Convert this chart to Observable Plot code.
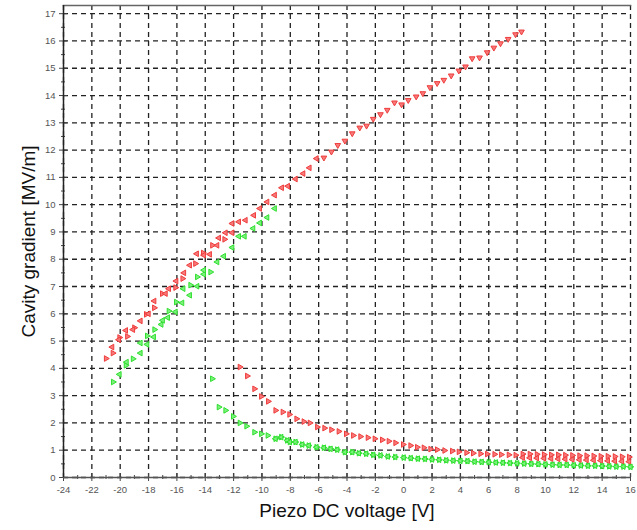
<!DOCTYPE html>
<html>
<head>
<meta charset="utf-8">
<script src="https://cdn.jsdelivr.net/npm/d3@7"></script>
<script src="https://cdn.jsdelivr.net/npm/@observablehq/plot@0.6"></script>
<style>
  html, body { margin: 0; padding: 0; background: #fff; }
  #chart { width: 637px; height: 530px; }
</style>
</head>
<body>
<div id="chart"></div>
<script>
// ---- Data (Piezo DC voltage [V], Cavity gradient [MV/m]) ----
const xTicks = [-24,-22,-20,-18,-16,-14,-12,-10,-8,-6,-4,-2,0,2,4,6,8,10,12,14,16];
const yTicks = [0,1,2,3,4,5,6,7,8,9,10,11,12,13,14,15,16,17];
const xLabel = "Piezo DC voltage [V]";
const yLabel = "Cavity gradient [MV/m]";

// red, upper branch
const redUpperRight = [[-21.0,4.36],[-20.52,4.56],[-20.05,5.13],[-19.5,5.17],[-19.0,5.49],[-18.17,5.98],[-17.6,6.22],[-17.04,6.74],[-16.1,6.96],[-15.6,7.29],[-14.7,7.84],[-14.15,8.23],[-13.5,8.51],[-12.64,8.73]];
const redUpperLeft = [[-20.57,4.78],[-20.1,5.05],[-19.6,5.39],[-19.1,5.42],[-18.57,5.74],[-18.0,6.0],[-17.6,6.47],[-16.8,6.74],[-16.57,6.92],[-16.05,7.2],[-15.5,7.5],[-15.09,7.78],[-14.6,8.2],[-14.1,8.15],[-13.68,8.18],[-13.16,8.51],[-13.04,8.78],[-12.57,8.97],[-12.1,8.97],[-12.1,9.31],[-11.63,9.37],[-11.16,9.43],[-10.57,9.61],[-10.15,9.86],[-9.63,10.1],[-9.1,10.35],[-8.6,10.62],[-8.17,10.68],[-7.63,10.94],[-7.09,11.14],[-6.65,11.35],[-6.15,11.69]];
const redUpperDown = [[-5.63,11.72],[-5.1,11.94],[-4.65,12.18],[-4.15,12.34],[-3.63,12.61],[-3.1,12.82],[-2.62,12.89],[-2.15,13.14],[-1.64,13.31],[-1.16,13.47],[-0.65,13.74],[-0.15,13.67],[0.32,13.83],[0.88,13.96],[1.35,14.08],[1.85,14.3],[2.36,14.45],[2.83,14.57],[3.35,14.73],[3.89,14.91],[4.36,15.06],[4.83,15.36],[5.35,15.39],[5.89,15.58],[6.36,15.75],[6.83,15.91],[7.37,16.07],[7.89,16.24],[8.31,16.34]];

// green, upper branch
const greenUpperRight = [[-20.5,3.5],[-19.6,4.11],[-19.1,4.35],[-18.1,5.19],[-17.58,5.42],[-16.57,6.1],[-16.05,6.43],[-15.04,7.05],[-14.57,7.35],[-13.63,7.53]];
const greenUpperLeft = [[-20.05,3.78],[-19.55,4.23],[-18.57,4.56],[-18.57,4.93],[-18.1,4.88],[-17.63,5.15],[-17.1,5.61],[-17.0,5.76],[-16.64,5.86],[-16.1,6.07],[-15.63,6.4],[-15.55,6.92],[-15.09,6.68],[-14.57,7.01],[-14.1,7.45],[-14.1,7.6],[-13.16,7.9],[-12.69,8.11],[-12.1,8.43],[-11.63,8.84],[-11.23,8.84],[-10.62,9.13],[-10.15,9.33],[-9.63,9.53],[-9.1,9.86]];

// red, lower branch
const redLower = [[-11.56,4.05],[-11.04,3.72],[-10.53,3.25],[-10.05,2.97],[-9.56,2.79],[-9.04,2.46],[-8.53,2.4],[-8.06,2.31],[-7.56,2.15],[-7.05,2.05],[-6.62,2.0],[-6.1,1.85],[-5.59,1.81],[-5.1,1.75],[-4.58,1.69],[-4.06,1.6],[-3.56,1.54],[-3.05,1.5],[-2.53,1.46],[-2.04,1.42],[-1.52,1.38],[-1.05,1.33],[-0.58,1.27],[-0.04,1.21],[0.48,1.17],[0.95,1.11],[1.42,1.09],[1.89,1.04],[2.36,1.02],[2.88,0.99],[3.42,0.97],[3.89,0.94],[4.43,0.91],[4.9,0.89],[5.42,0.87],[5.89,0.86],[6.41,0.85],[6.88,0.84],[7.42,0.83],[7.9,0.82]];
const redTailTop = [[8.4,0.86],[8.9,0.86],[9.4,0.85],[9.9,0.84],[10.4,0.83],[10.9,0.83],[11.4,0.82],[11.9,0.81],[12.4,0.8],[12.9,0.8],[13.4,0.79],[13.9,0.78],[14.4,0.78],[14.9,0.77],[15.4,0.76],[15.9,0.75]];
const redTailBottom = [[8.4,0.73],[8.9,0.72],[9.4,0.71],[9.9,0.7],[10.4,0.69],[10.9,0.68],[11.4,0.67],[11.9,0.66],[12.4,0.65],[12.9,0.64],[13.4,0.63],[13.9,0.62],[14.4,0.61],[14.9,0.6],[15.4,0.59],[15.9,0.58]];

// green, lower branch
const greenLower = [[-13.51,3.62],[-13.04,2.58],[-12.57,2.46],[-12.03,2.24],[-11.56,2.0],[-11.09,1.88],[-10.53,1.66],[-10.05,1.6],[-9.59,1.54],[-9.04,1.42],[-8.64,1.48],[-8.22,1.36],[-8.03,1.3],[-7.63,1.3],[-7.16,1.21],[-6.7,1.17],[-6.15,1.11],[-5.63,1.09],[-5.16,1.05],[-4.69,1.02],[-4.15,0.93],[-3.63,0.93],[-3.16,0.89],[-2.65,0.87],[-2.15,0.83],[-1.64,0.81],[-1.12,0.77],[-0.6,0.75],[0,0.73],[0.5,0.71],[1,0.69],[1.5,0.68],[2,0.66],[2.5,0.65],[3,0.63],[3.5,0.62],[4,0.61],[4.5,0.6],[5,0.58],[5.5,0.57],[6,0.56],[6.5,0.55],[7,0.54],[7.5,0.53],[8,0.52],[8.5,0.51],[9,0.5],[9.5,0.49],[10,0.48],[10.5,0.47],[11,0.46],[11.5,0.46],[12,0.45],[12.5,0.44],[13,0.43],[13.5,0.43],[14,0.42],[14.5,0.41],[15,0.4],[15.5,0.4],[16,0.39]];

// ---- Styles ----
const RED = "#f03c3c", RED_FILL = "#f77a7a";
const GREEN = "#2ee02e", GREEN_FILL = "#7ef07e";
const xMinor = d3.range(-23, 16, 2);
const yMinor = d3.range(0.5, 17, 1);

const W = 637, H = 530;
const mL = 63, mR = 7, mT = 5, mB = 53;
const plotW = W - mL - mR, plotH = H - mT - mB;

const tri = (data, color, fill, rot) => Plot.dot(data, {
  x: d => d[0], y: d => d[1], symbol: "triangle", rotate: rot, r: 2.1,
  fill: fill, stroke: color, strokeWidth: 1
});

const chart = Plot.plot({
  width: W, height: H,
  marginLeft: mL, marginRight: mR, marginTop: mT, marginBottom: mB,
  style: {fontFamily: "'Liberation Sans', Arial, sans-serif", background: "#fff"},
  x: {domain: [-24, 16]},
  y: {domain: [0, 17.3]},
  marks: [
    Plot.gridX(xTicks, {stroke: "#222", strokeOpacity: 1, strokeDasharray: "5,4", strokeWidth: 1.3}),
    Plot.gridY(yTicks, {stroke: "#222", strokeOpacity: 1, strokeDasharray: "5,4", strokeWidth: 1.3}),
    Plot.frame({anchor: "top", stroke: "#666", strokeWidth: 1.5}),
    // outward major ticks + labels
    Plot.axisX({ticks: xTicks, tickSize: 4, tickPadding: 5, fontSize: 9.5, color: "#555", stroke: "#444",
      tickFormat: d => String(d), label: null}),
    Plot.axisY({ticks: yTicks, tickSize: 4, tickPadding: 4, fontSize: 9.5, color: "#555", stroke: "#444",
      tickFormat: d => String(d), label: null}),
    // inward major ticks
    Plot.ruleX(xTicks, {insetTop: plotH - 4, stroke: "#444"}),
    Plot.ruleY(yTicks, {insetRight: plotW - 4, stroke: "#444"}),
    // minor ticks
    Plot.ruleX(xMinor, {insetTop: plotH - 2, stroke: "#444"}),
    Plot.ruleX(xMinor, {insetTop: plotH, insetBottom: -2, stroke: "#444"}),
    Plot.ruleY(yMinor, {insetRight: plotW - 2, stroke: "#444"}),
    Plot.ruleY(yMinor, {insetRight: plotW, insetLeft: -2, stroke: "#444"}),
    // axis lines
    Plot.ruleY([0], {stroke: "#555", strokeWidth: 1.5}),
    Plot.ruleX([-24], {stroke: "#222", strokeWidth: 1.5}),
    // data
    tri(redUpperRight, RED, RED_FILL, 90),
    tri(redUpperLeft, RED, RED_FILL, 270),
    tri(redUpperDown, RED, RED_FILL, 180),
    tri(greenUpperRight, GREEN, GREEN_FILL, 90),
    tri(greenUpperLeft, GREEN, GREEN_FILL, 270),
    tri(redLower, RED, RED_FILL, 90),
    tri(redTailTop, RED, RED_FILL, 90),
    tri(redTailBottom, RED, RED_FILL, 270),
    tri(greenLower, GREEN, GREEN_FILL, 90),
    tri(greenLower.filter(d => d[0] > -9.5), GREEN, GREEN_FILL, 270),
    // titles
    Plot.text([xLabel], {text: d => d, frameAnchor: "bottom", dy: 39, fontSize: 19, fill: "#111"}),
    Plot.text([yLabel], {text: d => d, frameAnchor: "left", textAnchor: "middle", dx: -35, rotate: -90, fontSize: 19, fill: "#111"})
  ]
});
document.getElementById("chart").append(chart);
</script>
</body>
</html>
